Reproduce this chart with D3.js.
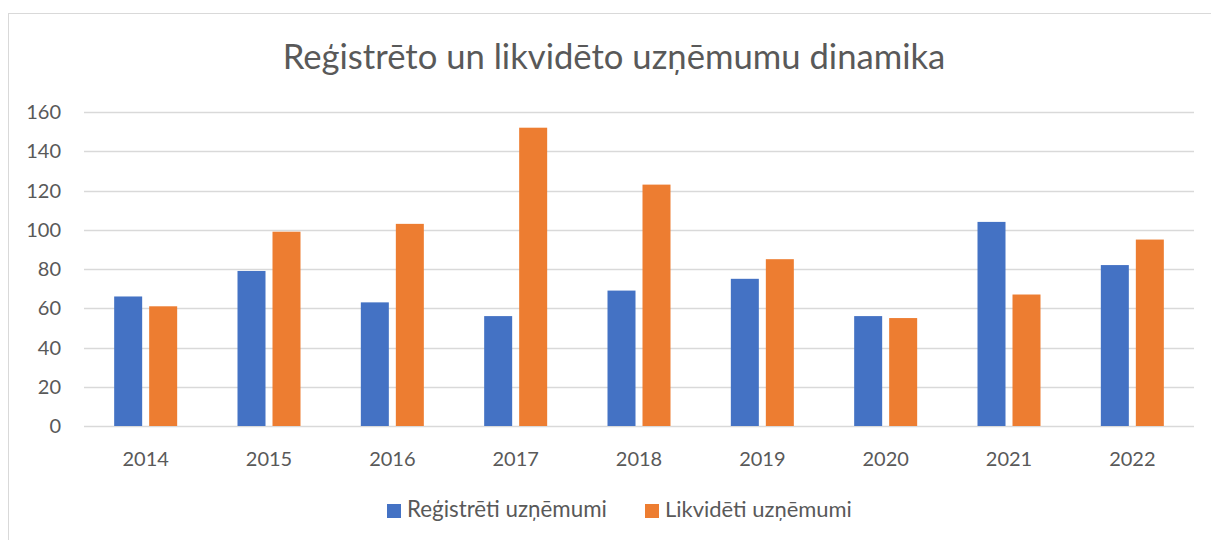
<!DOCTYPE html>
<meta charset="utf-8">
<head>
  <style>
    body { margin: 0; background: #fff; }
    text { font-family: Lato, "Open Sans", sans-serif; fill: #595959; }
    .grid line { stroke: #d9d9d9; stroke-width: 1.3px; }
  </style>
  <script src="https://d3js.org/d3.v7.min.js"></script>
</head>
<body>
  <svg width="1211" height="540"></svg>
  <script>
    var years = ["2014", "2015", "2016", "2017", "2018", "2019", "2020", "2021", "2022"];
    var registered = [66, 79, 63, 56, 69, 75, 56, 104, 82];
    var liquidated = [61, 99, 103, 152, 123, 85, 55, 67, 95];
    var seriesNames = ["Reģistrēti uzņēmumi", "Likvidēti uzņēmumi"];
    var colors = ["#4472c4", "#ed7d31"];
    var yTicks = [0, 20, 40, 60, 80, 100, 120, 140, 160];
    var title = "Reģistrēto un likvidēto uzņēmumu dinamika";

    var svg = d3.select("svg");

    // fit font size so text spans a given width
    function fit(sel, w) {
      sel.style("font-size", "20px");
      var len = sel.node().getComputedTextLength();
      sel.style("font-size", (20 * w / len) + "px");
      return sel;
    }

    // chart frame
    svg.append("rect")
      .attr("x", 8.5).attr("y", 13.5)
      .attr("width", 1230).attr("height", 560)
      .attr("fill", "none").attr("stroke", "#d9d9d9");

    var plotL = 84, plotR = 1194, plotT = 112, plotB = 426;

    var x = d3.scaleBand().domain(years).range([plotL, plotR]);
    var y = d3.scaleLinear().domain([0, 160]).range([plotB, plotT]);

    var barW = 28, gap = 7;

    // gridlines
    svg.append("g").attr("class", "grid")
      .selectAll("line").data(yTicks).enter().append("line")
      .attr("x1", plotL).attr("x2", plotR)
      .attr("y1", function(d) { return Math.round(y(d)) + 0.5; })
      .attr("y2", function(d) { return Math.round(y(d)) + 0.5; });

    // y labels
    svg.append("g").selectAll("text").data(yTicks).enter().append("text")
      .attr("x", 61).attr("y", function(d) { return y(d); })
      .attr("dy", "0.35em")
      .attr("text-anchor", "end")
      .style("font-size", "20px")
      .text(function(d) { return d; });

    // x labels
    svg.append("g").selectAll("text").data(years).enter().append("text")
      .attr("x", function(d) { return x(d) + x.bandwidth() / 2; })
      .attr("y", 466)
      .attr("text-anchor", "middle")
      .style("font-size", "20px")
      .text(function(d) { return d; });

    var series = [registered, liquidated];
    series.forEach(function(vals, si) {
      svg.append("g").selectAll("rect").data(vals).enter().append("rect")
        .attr("x", function(d, i) {
          var c = x(years[i]) + x.bandwidth() / 2;
          return si === 0 ? c - gap / 2 - barW : c + gap / 2;
        })
        .attr("y", function(d) { return y(d); })
        .attr("width", barW)
        .attr("height", function(d) { return plotB - y(d); })
        .attr("fill", colors[si]);
    });

    // title
    fit(svg.append("text")
      .attr("x", 614).attr("y", 69)
      .attr("text-anchor", "middle")
      .text(title), 663);

    // legend
    var legX = [387, 645], legW = [200, 187];
    seriesNames.forEach(function(name, i) {
      svg.append("rect")
        .attr("x", legX[i]).attr("y", 504)
        .attr("width", 14).attr("height", 14)
        .attr("fill", colors[i]);
      fit(svg.append("text")
        .attr("x", legX[i] + 20).attr("y", 517)
        .text(name), legW[i]);
    });
  </script>
</body>
